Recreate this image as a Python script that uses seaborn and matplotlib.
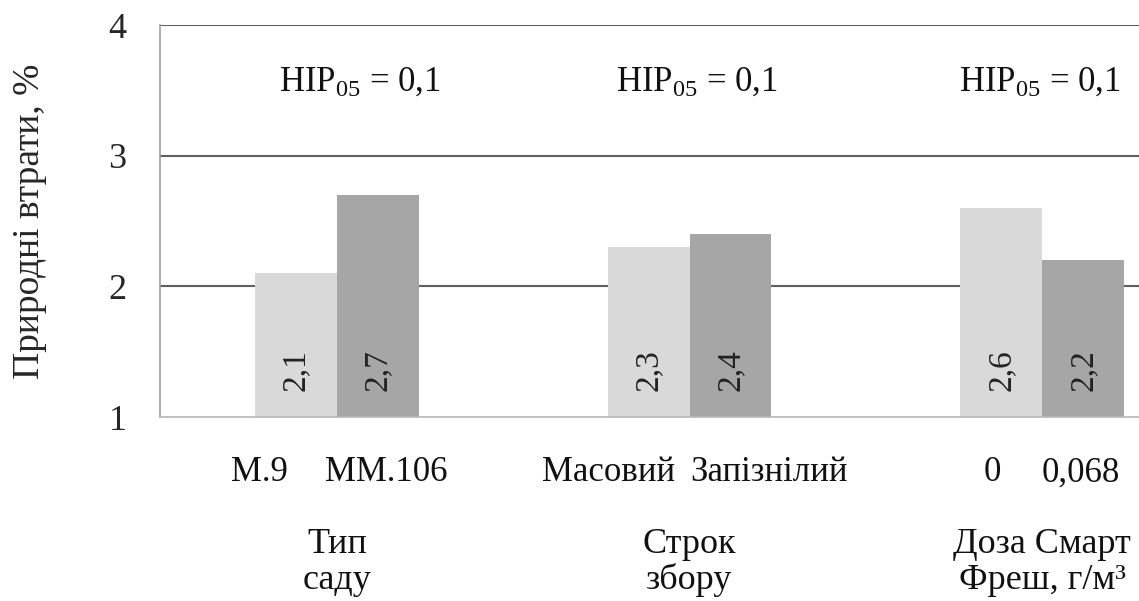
import matplotlib
matplotlib.use("Agg")
import matplotlib.pyplot as plt
import matplotlib.transforms as mtransforms
import seaborn as sns
import pandas as pd

# ---- data ----
groups = ["Тип\nсаду", "Строк\nзбору", "Доза Смарт\nФреш, г/м³"]
levels = ["first", "second"]
bar_labels = [["М.9", "ММ.106"], ["Масовий", "Запізнілий"], ["0", "0,068"]]
values_first = [2.1, 2.3, 2.6]
values_second = [2.7, 2.4, 2.2]
lsd_text = "НІР$_{05}$ = 0,1"
y_ticks = [1, 2, 3, 4]
y_label = "Природні втрати, %"

# layout offsets relative to group centre
label_offsets = [[-0.22, 0.14], [-0.23, 0.225], [-0.14, 0.11]]
lsd_offsets = [0.065, 0.02, -0.005]

colors = ["#d9d9d9", "#a6a6a6"]

sns.set_theme(style="white")
plt.rcParams["font.family"] = ["Liberation Serif", "DejaVu Serif"]
plt.rcParams["mathtext.fontset"] = "custom"
plt.rcParams["mathtext.rm"] = "Liberation Serif"
plt.rcParams["mathtext.it"] = "Liberation Serif"

df = pd.DataFrame({
    "group": groups * 2,
    "level": [levels[0]] * 3 + [levels[1]] * 3,
    "value": values_first + values_second,
})

fig = plt.figure(figsize=(11.39, 6.01), dpi=100)
ax = fig.add_axes([0.1405, 0.306, 0.8595, 0.652])

sns.barplot(data=df, x="group", y="value", hue="level", order=groups,
            hue_order=levels, palette=colors, width=0.465, linewidth=0,
            legend=False, ax=ax)

ax.set_ylim(1, 4)
ax.set_xlim(-0.502, 2.275)
ax.set_yticks(y_ticks)
ax.set_yticklabels([str(t) for t in y_ticks], fontsize=26)
ax.tick_params(axis="y", length=0, pad=24)
ax.set_xticks([])
ax.set_xlabel("")
ax.set_ylabel(y_label, fontsize=27, labelpad=44)

for y in [2, 3, 4]:
    ax.axhline(y, color="#5f5f5f", lw=1.5, zorder=0.5)

for s in ["top", "right"]:
    ax.spines[s].set_visible(False)
ax.spines["left"].set_color("#a0a0a0")
ax.spines["left"].set_linewidth(1.2)
ax.spines["bottom"].set_color("#b8b8b8")
ax.spines["bottom"].set_linewidth(1.2)

# value labels inside bars
for cont, vals in zip(ax.containers, [values_first, values_second]):
    for patch, v in zip(cont.patches, vals):
        xc = patch.get_x() + patch.get_width() / 2
        ax.text(xc, 1.36, f"{v:.1f}".replace(".", ","), rotation=90,
                ha="center", va="center", fontsize=24, color="#222222")

# LSD annotations
for i, off in enumerate(lsd_offsets):
    ax.text(i + off, 3.56, lsd_text, ha="center", va="center",
            fontsize=25, color="#111111")

trans = mtransforms.blended_transform_factory(ax.transData, fig.transFigure)
for i, (labs, offs) in enumerate(zip(bar_labels, label_offsets)):
    for lab, off in zip(labs, offs):
        ax.text(i + off, 0.213, lab, transform=trans, ha="center",
                va="center", fontsize=25, color="#111111", clip_on=False)
    ax.text(i, 0.064, groups[i], transform=trans, ha="center", va="center",
            fontsize=26, color="#111111", linespacing=1.1, clip_on=False)

fig.savefig("out.png", dpi=100)
